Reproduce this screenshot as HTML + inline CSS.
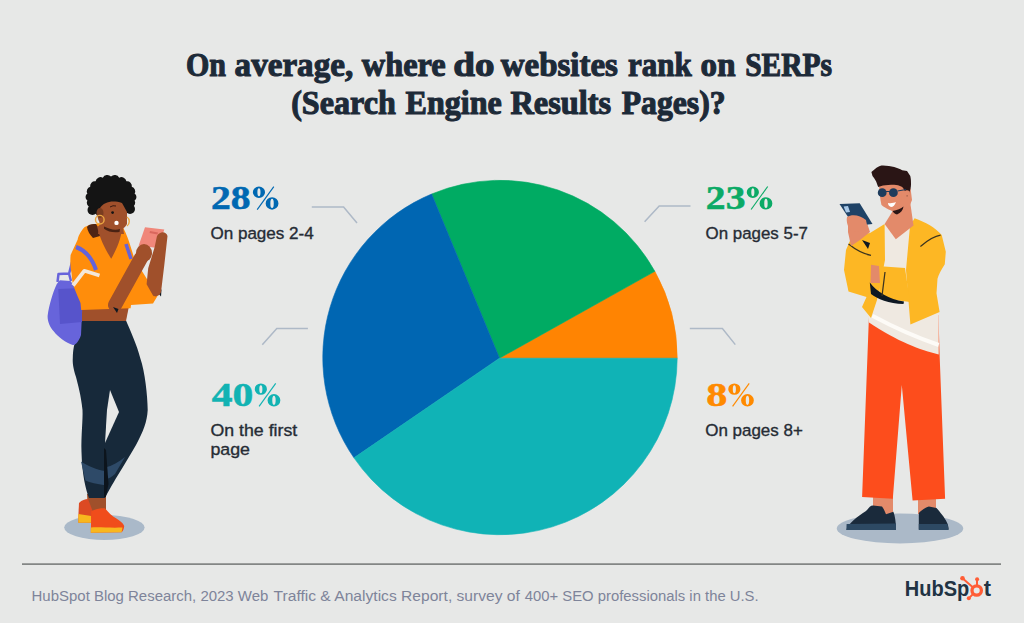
<!DOCTYPE html>
<html><head><meta charset="utf-8">
<style>
html,body{margin:0;padding:0;}
body{width:1024px;height:623px;overflow:hidden;background:#E7E8E7;position:relative;}
svg{position:absolute;left:0;top:0;}
</style></head>
<body>
<svg width="1024" height="623" viewBox="0 0 1024 623">
  <!-- pie -->
  <path fill="#FF8402" stroke="#FF8402" stroke-width="0.6" d="M499.5 358.2 L677.20 358.2 A177.2 177.2 0 0 0 654.83 271.32 Z"/>
  <path fill="#00AB63" stroke="#00AB63" stroke-width="0.6" d="M499.5 358.2 L654.83 271.32 A177.2 177.2 0 0 0 431.62 194.03 Z"/>
  <path fill="#0066B2" stroke="#0066B2" stroke-width="0.6" d="M499.5 358.2 L431.62 194.03 A177.2 177.2 0 0 0 353.96 457.87 Z"/>
  <path fill="#10B3B6" stroke="#10B3B6" stroke-width="0.6" d="M499.5 358.2 L353.96 457.87 A177.2 177.2 0 0 0 677.20 358.2 Z"/>
  <!-- leaders -->
  <g fill="none" stroke="#AEB9C7" stroke-width="1.5">
    <polyline points="311.8,207 343.6,207 357,223"/>
    <polyline points="262.3,344.8 276.8,328.4 307.9,328.4"/>
    <polyline points="644.6,221.8 659.2,205.9 690.5,205.9"/>
    <polyline points="689.8,328.6 722.4,328.6 735.3,344.6"/>
  </g>

  <!-- WOMAN -->
  <g id="woman">
  <ellipse cx="104.4" cy="527.5" rx="40.2" ry="12.5" fill="#AAB9C9"/>
  <path fill="#A0502B" d="M87 494 L106 494 L106 512 L88 512 Z"/>
  <path fill="#DC4A23" d="M79 503 C82 500 85 499 88 499 L93 512 L91.3 522.8 L78.3 522.8 L78.5 513 Z"/>
  <path fill="#F8B71E" d="M78.3 514 L91.3 516 L91.3 522.8 L78.3 522.8 Z"/>
  <path fill="#F04D1B" d="M91.3 511.3 C95 509 100 508 104.9 508.2 C108 512 112 516 116.4 518.6 C120 521 123 523 124.2 526 C124 529 123 531 121.6 532.2 L90.8 532.7 Z"/>
  <path fill="#F8B71E" d="M90.8 527.5 C100 527 110 528 122.5 527.5 L121.6 532.2 L90.8 532.7 Z"/>
  <path fill="#17293A" d="M81.7 320 L125.8 320 C130 330 137 345 140.3 358.2 C145 372 147.5 395 147.7 410 C147 422 143.5 431 136 445 C130 455 124.7 464.3 118 475 C112 485 108 492 105 498 L89 498 C86 490 82 475 81.5 452 C81 435 83 420 82.5 410 C81 395 78 385 76 377 C73 368 72.5 362 72.8 358 C73 350 74 345 75.2 342 C77 335 79 327 81.7 320 Z"/>
  <path fill="#2E4A68" d="M81 461.5 C88 466 97 470 105 471 L105 485.2 C97 484 90 482.5 85.4 480.4 Z"/>
  <path fill="#2E4A68" d="M105 467.5 C112 466 119 462 125 457 L115 474 C112 477 108 479 105 479.5 Z"/>
  <path fill="#E7E8E7" d="M110 390 L119 412 L105 443 L107 410 Z"/>
  <path fill="#0C141C" d="M104 448 L106 450 L108.5 484 L105.8 497 L104 497 Z"/>
  <path fill="#A0502B" d="M81 306 L129 306 L126 321 L82 321 Z"/>
  <!-- backpack -->
  <path fill="none" stroke="#6764DB" stroke-width="2.5" stroke-linejoin="round" d="M57.5 282 L58.5 274 L69 273.5 L71 281 M69 274 L72 262"/>
  <path fill="#6764DB" d="M59.8 280.2 L70.5 281 C75 287 80 294 82.7 299.3 L81 335 C79 341 76 345 72.8 345.1 C66 343 58 337 53.7 331.3 C50 327 47.5 322 47.6 316 C49 305 53 292 56.8 284 Z"/>
  <path fill="#5754CB" d="M58.3 289 L82 288 L82 322 L60 324 Z"/>
  <!-- hoodie -->
  <path fill="#FF8D0B" d="M84.7 227 C80 232 78 237 77.7 239.4 L70.6 255 C70 262 70.5 268 71.5 273 C72 279 72.5 283 73.5 286 C76 293 79 299 80.5 303 L81.2 310 L130.6 308.3 L131 305 L153 303.5 L157.8 295.5 C154 290 151 285 148.2 281 C145 276 142 271 140.2 268.2 L134.2 258 L130.6 246.5 C128 238 125 231 122.7 227.1 C112 222 95 222 84.7 227 Z"/>
  <path fill="#4E2414" d="M87 227 C88 224.5 92 223.5 96 224 L100.5 231.5 L100 236 L93 238 C90 235 87.5 231 87 227 Z"/>
  <path fill="#A0502B" d="M97 226 L122 228 C121 240 116 250 111.2 258.8 C106 250 100 240 97 226 Z"/>
  <path fill="none" stroke="#F3E7DA" stroke-width="3.8" stroke-linejoin="round" d="M73 285.5 L84.3 270.8 L90 272.5 L99.5 275.5"/>
  <path fill="none" stroke="#6563DA" stroke-width="4" d="M76 247 Q90 252 96 270"/>
  <path fill="none" stroke="#6563DA" stroke-width="3.5" d="M126 244 L131 259"/>
  <!-- arms -->
  
  <path fill="#0E1822" d="M156.5 291 L161.5 289.5 L161 296.5 Z"/>
  <path fill="#F0877A" d="M145 227.2 L164.3 229.6 L158 248 L138.6 245.7 Z"/>
  <path fill="#A0502B" d="M157 236 C160 231 166 231 167.5 236 L164.3 265 L161 292.3 C159 297 154 297 153 295.5 L146.6 284.3 L148.2 268.2 L154.6 247.3 Z"/>
  <path fill="#D9675D" d="M150 231 L158 232.5 L157.5 234.5 L149.5 233 Z"/>
  <path fill="none" stroke="#A0502B" stroke-width="14" stroke-linecap="round" d="M115 305 L141 258"/>
  <ellipse cx="144" cy="253" rx="8" ry="9" fill="#A0502B"/>
  <path fill="#0E1822" d="M113 307 L118.5 309 L117 313 Z"/>
  <!-- head -->
  <path fill="#A0502B" d="M100 220 L122 220 L124 234 L98 234 Z"/>
  <ellipse cx="112" cy="215" rx="14.5" ry="14" fill="#A0502B"/>
  <circle cx="92.5" cy="210" r="5" fill="#141414"/><circle cx="130" cy="209" r="5" fill="#141414"/>
  <path fill="#141414" d="M111.0 176.5 A5.1 5.1 0 0 1 119.2 177.7 A5.0 5.0 0 0 1 126.4 181.3 A4.7 4.7 0 0 1 131.8 186.8 A4.5 4.5 0 0 1 134.6 193.4 A4.4 4.4 0 0 1 134.6 200.6 A4.5 4.5 0 0 1 131.8 207.2 A4.7 4.7 0 0 1 126.4 212.7 A5.0 5.0 0 0 1 119.2 216.3 A5.1 5.1 0 0 1 111.0 217.5 A5.1 5.1 0 0 1 102.8 216.3 A5.0 5.0 0 0 1 95.6 212.7 A4.7 4.7 0 0 1 90.2 207.2 A4.5 4.5 0 0 1 87.4 200.6 A4.4 4.4 0 0 1 87.4 193.4 A4.5 4.5 0 0 1 90.2 186.8 A4.7 4.7 0 0 1 95.6 181.3 A5.0 5.0 0 0 1 102.8 177.7 A5.1 5.1 0 0 1 111.0 176.5 Z"/>
  <path fill="#A0502B" d="M100 208 C104 202 112 200 122 203 L127 212 L127 224 C124 230 117 232 110 230 C104 228 99 222 100 208 Z"/>
  <ellipse cx="100" cy="213" rx="3.5" ry="5" fill="#7A3D20"/>
  <circle cx="99.8" cy="219.7" r="4.3" fill="none" stroke="#EBA743" stroke-width="1.4"/>
  <path fill="none" stroke="#EBA743" stroke-width="1.4" d="M127 217 C130 219 130 224 127 226"/>
  <circle cx="112.6" cy="212.6" r="1.4" fill="#141414"/>
  <path fill="none" stroke="#3A1A10" stroke-width="1" d="M110 207 Q113 205 116 206"/>
  <circle cx="116.5" cy="222.9" r="2.2" fill="#FFFFFF"/>
  <path fill="#4A2213" d="M104 226.5 C110 229.5 115 230.5 120 229 L119.5 232 C114 233 108 232 104 228.8 Z"/>
  </g>

  <!-- MAN -->
  <g id="man">
  <ellipse cx="900" cy="528.5" rx="63.2" ry="15" fill="#ABB9C8"/>
  <path fill="#E38A6A" d="M873 494 L893 494 L893 514 L873 514 Z"/>
  <path fill="#E38A6A" d="M918 497 L936 497 L936 514 L918 514 Z"/>
  <path fill="#1A2A3B" d="M846.4 529.5 C848 524 858 516 866 511 C869 508 870 505.4 873 505.4 L882 506.6 C884 509 885 512 886 514.3 L893.4 511.7 C895 516 896 522 896 529.5 C896 530 846.4 530.5 846.4 529.5 Z"/>
  <path fill="#2D4963" d="M846.6 524 L896 523.5 L896 530 L846.4 530 Z"/>
  <path fill="#1A2A3B" d="M918.8 529.5 L918.8 513 C922 510 926 507 928.9 506.6 L936.5 508 C940 512 945 518 946.7 521.9 C948 524 948.6 527 948.6 529.5 Z"/>
  <path fill="#2D4963" d="M918.8 524 L947.5 524 L948.6 530 L918.8 530 Z"/>
  <path fill="#FD4D1C" d="M869 315 L938.5 315 L939.5 352 L945.1 498.7 L912.6 500.5 L901.8 385 L892.8 498.7 L862.1 497 Z"/>
  <path fill="#EFE9E1" d="M884.6 224 L910 226 L925 245 L938.7 300 L938.7 354.5 C920 350 898 342 869 322.6 L866 300 L875 240 Z"/>
  <path fill="none" stroke="#FDFBF7" stroke-width="4" d="M872.4 315.8 C895 328 915 337 938.7 345"/>
  <!-- jacket right panel -->
  <path fill="#FDB724" d="M910 226 L914.6 218.3 C925 222 936 228 941.7 235 L945.8 251.7 L944.8 264.2 C941 270 938.5 275 937.5 278.8 L936.5 293.3 L939.6 312 L910.4 324.6 L906 270 Z"/>
  <!-- jacket left panel + sleeve -->
  <path fill="#FDB724" d="M884.6 224 L870 233 L852 236 L846 250 L844 270 L848.5 291.4 L866.5 297 L862 307 L871 318 L877 300 L885 260 Z"/>
  <!-- crossed arm -->
  <path fill="#FDB724" d="M877 266 L905 268 L910 302 L880 298 Z"/>
  <path fill="#E38A6A" d="M871 264.7 L879 266 L880 283 L870.5 283 Z"/>
  <path fill="#0E1822" d="M869.8 282.6 C877 292 889 299.5 904 301.5 L903.5 304 C889 303.5 877 299 871 294 Z"/>
  <path fill="none" stroke="#3A3320" stroke-width="1.2" d="M920.4 246.5 C928 240 935 236 940.6 235.2"/>
  <path fill="none" stroke="#3A3320" stroke-width="1.2" d="M848.5 244 C856 250 864 254 871 255.4"/>
  <path fill="none" stroke="#3A3320" stroke-width="1.2" d="M885 272 L882 296"/>
  <!-- raised hand -->
  <path fill="#E38A6A" d="M848 222 L866 220 L870 232 L860 240 L851 246 L848 232 Z"/>
  <path fill="#0E1822" d="M862 240 L870 243 L868 249 Z"/>
  <path fill="#1F4266" d="M839.5 204 L859.7 203.2 L872.5 224 L854 226 Z"/>
  <path fill="#A8C8E8" d="M843.6 206.4 L848 206 L850 212 L846 212.4 Z"/>
  <path fill="#E38A6A" d="M847 217 C852 214 860 215 866 220 L868 230 L852 232 C848 228 846 222 847 217 Z"/>
  <!-- head -->
  <path fill="#E38A6A" d="M894 209 L910 201 L913.5 225.6 L895.8 239.3 L884.6 224 Z"/>
  <path fill="#E38A6A" d="M879 183 L909 182 L910.3 195.1 L905.4 206.4 C901 210 896 212 892.6 211.2 C887 209 882 206 881.4 204.8 C880 198 879 190 879 183 Z"/>
  <path fill="#E38A6A" d="M903 186 L910.5 188 L912 200 L908 210 L900 208 Z"/>
  <path fill="#2A1515" d="M871.4 171.9 L876.5 167.8 C879 166 881 165.4 883 165.4 C887 165.5 891 166 894.2 167 C897 168 900 169 902.2 170.2 L907 171 L910.3 175.9 C911 179 911 181 911 183.9 C911 187 910.5 189 909.5 191.9 L907 196.7 L905.4 191.9 C904.5 190 903.5 188.5 902.2 187.1 C899 185.5 897 184.7 894.2 184.7 C890 184.8 886 185 883 185.5 L878.2 187.1 C877 184 876.5 182 875.7 180.7 C874.5 178.5 873.5 177 872.5 175.9 Z"/>
  <circle cx="907" cy="193" r="2.8" fill="#E38A6A"/>
  <circle cx="882.2" cy="192.7" r="4.4" fill="#1E3C5C"/>
  <circle cx="893.4" cy="192.7" r="4.4" fill="#1E3C5C"/>
  <path fill="none" stroke="#1E3C5C" stroke-width="1.2" d="M886 191.5 L890 191.5 M897.5 191 L906 189.5"/>
  <path fill="#FFFFFF" d="M888 203 C891 203.5 894 203 896 202 C895 205 893 207 891 207 C889 206 888 205 888 203 Z"/>
  <path fill="#2A1515" d="M892.5 211 C897 210.5 901 208.5 903.5 206.5 C903 210 901 213 897 214.5 C895 214 893.5 213 892.5 211 Z"/>
  </g>

  <!-- HubSpot logo -->
  <g>
    <text x="904.8" y="596.4" font-family="Liberation Sans, sans-serif" font-weight="bold" font-size="21.8" fill="#213343" textLength="64.5" lengthAdjust="spacingAndGlyphs">HubSp</text>
    <text x="983.8" y="596.4" font-family="Liberation Sans, sans-serif" font-weight="bold" font-size="21.8" fill="#213343">t</text>
    <g fill="#FF5C35" stroke="#FF5C35">
      <circle cx="976.7" cy="590.5" r="4.7" fill="none" stroke-width="3.3"/>
      <line x1="977" y1="579.5" x2="977" y2="585" stroke-width="2"/>
      <line x1="962.5" y1="578.3" x2="972.5" y2="587" stroke-width="1.9"/>
      <line x1="968.8" y1="598.3" x2="973" y2="594" stroke-width="1.9"/>
      <circle cx="977.1" cy="579.3" r="2" stroke="none"/>
      <circle cx="962.5" cy="578.3" r="2.3" stroke="none"/>
      <circle cx="968.8" cy="598.3" r="2" stroke="none"/>
    </g>
  </g>
  <!-- footer line -->
  <line x1="22" y1="564.1" x2="1001" y2="564.1" stroke="#838685" stroke-width="1.7"/>
</svg>

<svg width="1024" height="623" viewBox="0 0 1024 623" style="position:absolute;left:0;top:0">
  <g font-family="Liberation Serif, serif" font-weight="bold">
    <g font-size="32.8" fill="#1D2A38" stroke="#1D2A38" stroke-width="1.1">
      <text lengthAdjust="spacingAndGlyphs" x="186.04" y="76.2" textLength="40.02">On</text>
      <text lengthAdjust="spacingAndGlyphs" x="234.63" y="76.2" textLength="118.53">average,</text>
      <text lengthAdjust="spacingAndGlyphs" x="361.81" y="76.2" textLength="83.93">where</text>
      <text lengthAdjust="spacingAndGlyphs" x="453.32" y="76.2" textLength="41.27">do</text>
      <text lengthAdjust="spacingAndGlyphs" x="500.80" y="76.2" textLength="117.10">websites</text>
      <text lengthAdjust="spacingAndGlyphs" x="628.07" y="76.2" textLength="63.78">rank</text>
      <text lengthAdjust="spacingAndGlyphs" x="700.64" y="76.2" textLength="34.86">on</text>
      <text lengthAdjust="spacingAndGlyphs" x="745.13" y="76.2" textLength="86.89">SERPs</text>
      <text lengthAdjust="spacingAndGlyphs" x="291.20" y="113.8" textLength="104.59">(Search</text>
      <text lengthAdjust="spacingAndGlyphs" x="405.55" y="113.8" textLength="96.18">Engine</text>
      <text lengthAdjust="spacingAndGlyphs" x="510.45" y="113.8" textLength="100.64">Results</text>
      <text lengthAdjust="spacingAndGlyphs" x="621.66" y="113.8" textLength="103.93">Pages)?</text>
    </g>
    <text x="210.99" y="209.15" font-size="34.3" fill="#0068B2" stroke="#0068B2" stroke-width="0.5" textLength="39.58" lengthAdjust="spacingAndGlyphs">28</text>
    <path fill="#0068B2" fill-rule="evenodd" d="M252.85 192.30 A6.1 5.7 0 1 0 265.05 192.30 A6.1 5.7 0 1 0 252.85 192.30 Z M257.40 192.30 A1.55 4.0 0 1 1 260.50 192.30 A1.55 4.0 0 1 1 257.40 192.30 Z M265.65 203.45 A6.4 6.2 0 1 0 278.45 203.45 A6.4 6.2 0 1 0 265.65 203.45 Z M270.35 203.45 A1.7 4.6 0 1 1 273.75 203.45 A1.7 4.6 0 1 1 270.35 203.45 Z"/>
    <line x1="273.80" y1="186.55" x2="257.20" y2="209.55" stroke="#0068B2" stroke-width="1.15"/>
    <text x="211.68" y="406.25" font-size="34.3" fill="#12B3B3" stroke="#12B3B3" stroke-width="0.5" textLength="41.55" lengthAdjust="spacingAndGlyphs">40</text>
    <path fill="#12B3B3" fill-rule="evenodd" d="M254.75 389.15 A6.1 5.7 0 1 0 266.95 389.15 A6.1 5.7 0 1 0 254.75 389.15 Z M259.30 389.15 A1.55 4.0 0 1 1 262.40 389.15 A1.55 4.0 0 1 1 259.30 389.15 Z M267.55 400.30 A6.4 6.2 0 1 0 280.35 400.30 A6.4 6.2 0 1 0 267.55 400.30 Z M272.25 400.30 A1.7 4.6 0 1 1 275.65 400.30 A1.7 4.6 0 1 1 272.25 400.30 Z"/>
    <line x1="275.70" y1="383.40" x2="259.10" y2="406.40" stroke="#12B3B3" stroke-width="1.15"/>
    <text x="705.89" y="209.15" font-size="34.3" fill="#0BAA66" stroke="#0BAA66" stroke-width="0.5" textLength="39.62" lengthAdjust="spacingAndGlyphs">23</text>
    <path fill="#0BAA66" fill-rule="evenodd" d="M746.75 192.25 A6.1 5.7 0 1 0 758.95 192.25 A6.1 5.7 0 1 0 746.75 192.25 Z M751.30 192.25 A1.55 4.0 0 1 1 754.40 192.25 A1.55 4.0 0 1 1 751.30 192.25 Z M759.55 203.40 A6.4 6.2 0 1 0 772.35 203.40 A6.4 6.2 0 1 0 759.55 203.40 Z M764.25 203.40 A1.7 4.6 0 1 1 767.65 203.40 A1.7 4.6 0 1 1 764.25 203.40 Z"/>
    <line x1="767.70" y1="186.50" x2="751.10" y2="209.50" stroke="#0BAA66" stroke-width="1.15"/>
    <text x="706.25" y="406.25" font-size="34.3" fill="#FF8A00" stroke="#FF8A00" stroke-width="0.5" textLength="21.10" lengthAdjust="spacingAndGlyphs">8</text>
    <path fill="#FF8A00" fill-rule="evenodd" d="M728.25 389.15 A6.1 5.7 0 1 0 740.45 389.15 A6.1 5.7 0 1 0 728.25 389.15 Z M732.80 389.15 A1.55 4.0 0 1 1 735.90 389.15 A1.55 4.0 0 1 1 732.80 389.15 Z M741.05 400.30 A6.4 6.2 0 1 0 753.85 400.30 A6.4 6.2 0 1 0 741.05 400.30 Z M745.75 400.30 A1.7 4.6 0 1 1 749.15 400.30 A1.7 4.6 0 1 1 745.75 400.30 Z"/>
    <line x1="749.20" y1="383.40" x2="732.60" y2="406.40" stroke="#FF8A00" stroke-width="1.15"/>
  </g>
  <g font-family="Liberation Sans, sans-serif" font-size="16.7" fill="#262C35" stroke="#262C35" stroke-width="0.35">
    <text x="210.4" y="238.5" textLength="103.4" lengthAdjust="spacingAndGlyphs">On pages 2-4</text>
    <text x="210.5" y="435.6" textLength="86.7" lengthAdjust="spacingAndGlyphs">On the first</text>
    <text x="210.5" y="455.4" textLength="39.5" lengthAdjust="spacingAndGlyphs">page</text>
    <text x="705.6" y="238.9" textLength="102.3" lengthAdjust="spacingAndGlyphs">On pages 5-7</text>
    <text x="705.2" y="435.6" textLength="97.6" lengthAdjust="spacingAndGlyphs">On pages 8+</text>
  </g>
  <g font-family="Liberation Sans, sans-serif" font-size="15.4" fill="#7E849A">
    <text x="31.57" y="600.5" textLength="236.75" lengthAdjust="spacingAndGlyphs">HubSpot Blog Research, 2023 Web</text>
    <text x="273.55" y="600.5" textLength="246.33" lengthAdjust="spacingAndGlyphs">Traffic &amp; Analytics Report, survey of</text>
    <text x="524.76" y="600.5" textLength="233.90" lengthAdjust="spacingAndGlyphs">400+ SEO professionals in the U.S.</text>
  </g>
</svg>
</body></html>
